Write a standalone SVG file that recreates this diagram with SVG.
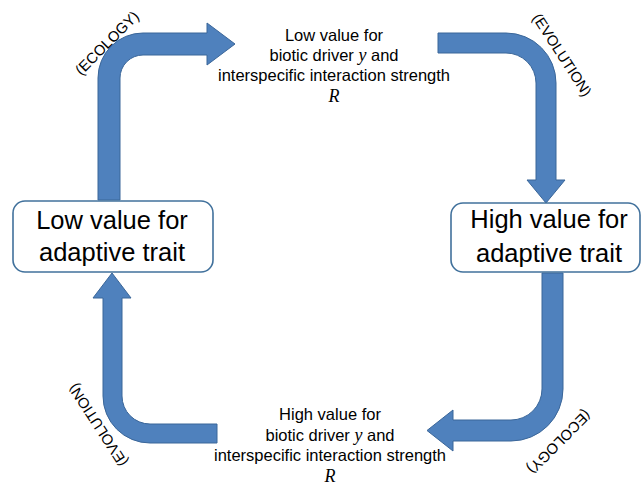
<svg xmlns="http://www.w3.org/2000/svg" width="643" height="485" viewBox="0 0 643 485">
  <style>
    .arrow { fill: #4F81BD; stroke: #3A6699; stroke-width: 1; stroke-linejoin: miter; }
    .box { fill: #FFFFFF; stroke: #41719C; stroke-width: 1.6; }
    .big { font-family: "Liberation Sans", Arial, sans-serif; font-size: 25.5px; fill: #000; text-anchor: middle; }
    .mid { font-family: "Liberation Sans", Arial, sans-serif; font-size: 16.5px; fill: #000; text-anchor: middle; }
    .math { font-family: "Liberation Serif", "Times New Roman", serif; font-style: italic; font-size: 18px; }
    .tag { font-family: "Liberation Sans", Arial, sans-serif; font-size: 14.8px; fill: #000; text-anchor: middle; dominant-baseline: central; }
  </style>

  <rect width="643" height="485" fill="#FFFFFF"/>

  <!-- bent block arrows forming the cycle -->
  <g id="connectors">
    <!-- low trait -> low driver (ecology) -->
    <path class="arrow" d="M98,200 V78 A45,45 0 0 1 143,33 H207 V23 L235,44 L207,65 V55 H143 A23,23 0 0 0 120,78 V200 Z"/>
    <!-- low driver -> high trait (evolution) -->
    <path class="arrow" d="M438,33 H506 A50,50 0 0 1 556,83 V180 H565 L546,203 L527,180 H536 V83 A30,30 0 0 0 506,53 H438 Z"/>
    <!-- high trait -> high driver (ecology) -->
    <path class="arrow" d="M542,273 H563 V389 A52,52 0 0 1 511,441 H453 V451 L427,430.5 L453,410 V420 H511 A31,31 0 0 0 542,389 Z"/>
    <!-- high driver -> low trait (evolution) -->
    <path class="arrow" d="M217,443 H150 A47,47 0 0 1 103,396 V298 H93 L112,273 L131,298 H122 V396 A28,28 0 0 0 150,424 H217 Z"/>

    <text class="tag" transform="translate(107,43) rotate(-45)">(ECOLOGY)</text>
    <text class="tag" transform="translate(562,55) rotate(57)">(EVOLUTION)</text>
    <text class="tag" transform="translate(559,442) rotate(135)">(ECOLOGY)</text>
    <text class="tag" transform="translate(98,425) rotate(237)">(EVOLUTION)</text>
  </g>

  <g id="low-trait">
    <rect class="box" x="13" y="201" width="200" height="71" rx="12" ry="12"/>
    <text class="big" x="112" y="229">Low value for</text>
    <text class="big" x="112" y="261">adaptive trait</text>
  </g>

  <g id="high-trait">
    <rect class="box" x="451" y="203" width="189" height="69" rx="12" ry="12"/>
    <text class="big" x="549" y="228">High value for</text>
    <text class="big" x="549" y="262">adaptive trait</text>
  </g>

  <g id="low-driver">
    <text class="mid" x="334" y="41">Low value for</text>
    <text class="mid" x="334" y="61">biotic driver <tspan class="math">y</tspan> and</text>
    <text class="mid" x="334" y="81">interspecific interaction strength</text>
    <text class="mid" x="334" y="102"><tspan class="math">R</tspan></text>
  </g>

  <g id="high-driver">
    <text class="mid" x="330" y="420">High value for</text>
    <text class="mid" x="330" y="441">biotic driver <tspan class="math">y</tspan> and</text>
    <text class="mid" x="330" y="461">interspecific interaction strength</text>
    <text class="mid" x="330" y="482"><tspan class="math">R</tspan></text>
  </g>
</svg>
